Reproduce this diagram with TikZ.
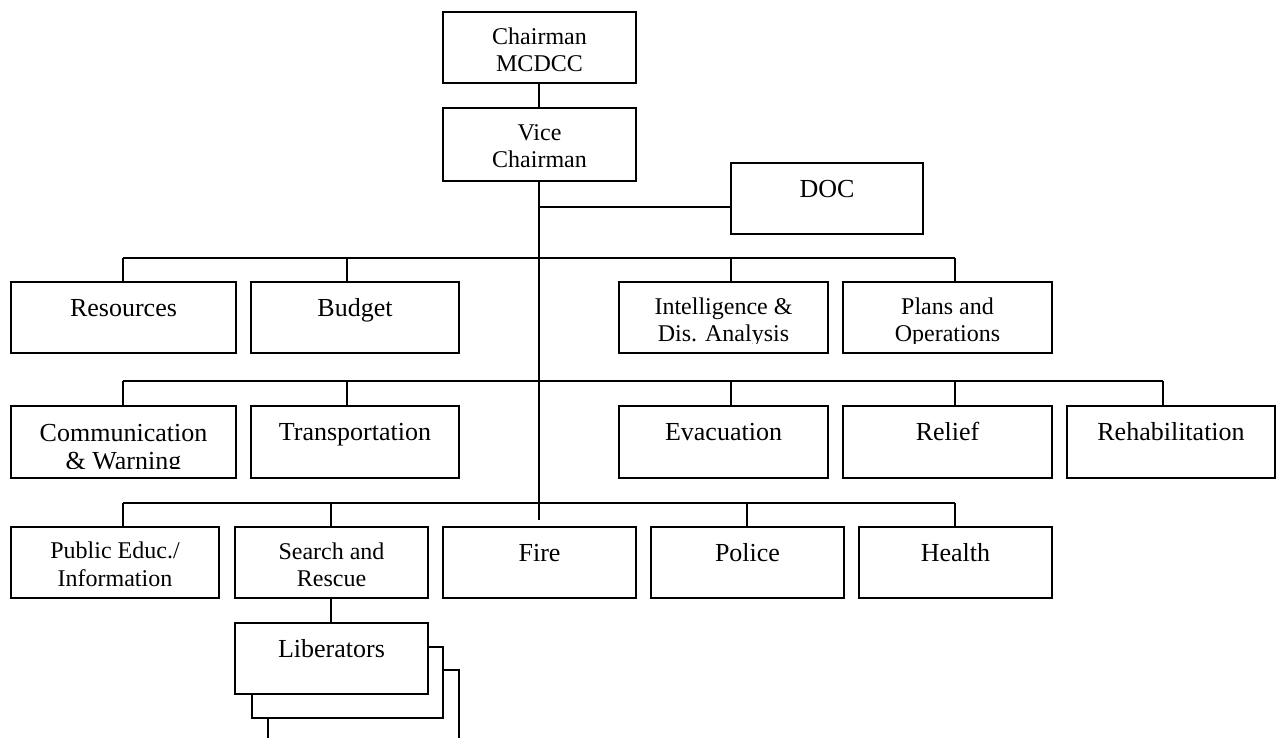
\documentclass[tikz,border=0pt]{standalone}
\usepackage{fontspec}
\setmainfont{Liberation Serif}

\tikzset{
  unit/.style={draw, line width=1.4pt, fill=white, inner sep=0pt, rectangle},
  link/.style={line width=1.4pt},
  lbl/.style={anchor=base, inner sep=0pt},
  bigtext/.style={font=\fontsize{26}{28}\selectfont},
  smalltext/.style={font=\fontsize{24}{27.5}\selectfont},
}

% box given by its corners (x1,y1) (x2,y2), y measured downwards
\newcommand{\unitbox}[5]{%
  \node[unit, minimum width={(#4-#2)*1pt}, minimum height={(#5-#3)*1pt}]
    (#1) at ({(#2+#4)/2},{(#3+#5)/2}) {};}

% one line of text hanging from the top of a box
\newcommand{\oneline}[2]{%
  \node[lbl, bigtext] at ([yshift=-35pt]#1.north) {#2};}

% two lines of text, clipped to the text area of the box
\newcommand{\twoline}[6]{%
  \begin{scope}
    \clip ([yshift=-1pt]#1.north west) rectangle ([yshift=10.5pt]#1.south east);
    \node[lbl, #2] at ([yshift=-#3pt]#1.north) {#5};
    \node[lbl, #2] at ([yshift=-#4pt]#1.north) {#6};
  \end{scope}}

\begin{document}
\begin{tikzpicture}[x=1pt, y=-1pt]
  \useasboundingbox (0,0) rectangle (1281,737);
  \clip (0,0) rectangle (1281,737);

  % ---- command ----
  \unitbox{chair}{443}{12}{636}{83}
  \unitbox{vice}{443}{108}{636}{181}
  \unitbox{doc}{731}{163}{923}{234}

  % ---- second level ----
  \unitbox{res}{11}{282}{236}{353}
  \unitbox{bud}{251}{282}{459}{353}
  \unitbox{intel}{619}{282}{828}{353}
  \unitbox{plans}{843}{282}{1052}{353}

  % ---- third level ----
  \unitbox{comm}{11}{406}{236}{478}
  \unitbox{trans}{251}{406}{459}{478}
  \unitbox{evac}{619}{406}{828}{478}
  \unitbox{relief}{843}{406}{1052}{478}
  \unitbox{rehab}{1067}{406}{1275}{478}

  % ---- fourth level ----
  \unitbox{pub}{11}{527}{219}{598}
  \unitbox{sar}{235}{527}{428}{598}
  \unitbox{fire}{443}{527}{636}{598}
  \unitbox{police}{651}{527}{844}{598}
  \unitbox{health}{859}{527}{1052}{598}

  % ---- rescue teams (stacked) ----
  \unitbox{libC}{268}{670}{459}{741}
  \unitbox{libB}{252}{647}{443}{718}
  \unitbox{libA}{235}{623}{428}{694}

  % ---- texts ----
  \twoline{chair}{smalltext}{33}{60}{Chairman}{MCDCC}
  \twoline{vice}{smalltext}{33}{60}{Vice}{Chairman}
  \oneline{doc}{DOC}
  \oneline{res}{Resources}
  \oneline{bud}{Budget}
  \twoline{intel}{smalltext}{33}{60}{Intelligence \&}{Dis. Analysis}
  \twoline{plans}{smalltext}{33}{60}{Plans and}{Operations}
  \twoline{comm}{bigtext}{36}{64}{Communication}{\& Warning}
  \oneline{trans}{Transportation}
  \oneline{evac}{Evacuation}
  \oneline{relief}{Relief}
  \oneline{rehab}{Rehabilitation}
  \twoline{pub}{smalltext}{32}{60}{Public Educ./}{Information}
  \twoline{sar}{smalltext}{33}{60}{Search and}{Rescue}
  \oneline{fire}{Fire}
  \oneline{police}{Police}
  \oneline{health}{Health}
  \oneline{libA}{Liberators}

  % ---- junction points ----
  \coordinate (tdoc) at (539,207);
  \coordinate (tend) at (539,520);
  \coordinate (a1) at (123,258);  \coordinate (a2) at (347,258);
  \coordinate (a3) at (731,258);  \coordinate (a4) at (955,258);
  \coordinate (b1) at (123,381);  \coordinate (b2) at (347,381);
  \coordinate (b3) at (731,381);  \coordinate (b4) at (955,381);
  \coordinate (b5) at (1163,381);
  \coordinate (c1) at (123,503);  \coordinate (c2) at (331,503);
  \coordinate (c3) at (747,503);  \coordinate (c4) at (955,503);

  % ---- connectors ----
  \draw[link] (chair.south -| tdoc) -- (vice.north -| tdoc);
  \draw[link] (vice.south -| tdoc) -- (tend);
  \draw[link] (tdoc) -- (tdoc -| doc.west);

  \draw[link] (a1) -- (a4);
  \draw[link] (a1) -- (a1 |- res.north);
  \draw[link] (a2) -- (a2 |- bud.north);
  \draw[link] (a3) -- (a3 |- intel.north);
  \draw[link] (a4) -- (a4 |- plans.north);

  \draw[link] (b1) -- (b5);
  \draw[link] (b1) -- (b1 |- comm.north);
  \draw[link] (b2) -- (b2 |- trans.north);
  \draw[link] (b3) -- (b3 |- evac.north);
  \draw[link] (b4) -- (b4 |- relief.north);
  \draw[link] (b5) -- (b5 |- rehab.north);

  \draw[link] (c1) -- (c4);
  \draw[link] (c1) -- (c1 |- pub.north);
  \draw[link] (c2) -- (c2 |- sar.north);
  \draw[link] (c3) -- (c3 |- police.north);
  \draw[link] (c4) -- (c4 |- health.north);

  \draw[link] (c2 |- sar.south) -- (c2 |- libA.north);
\end{tikzpicture}
\end{document}
